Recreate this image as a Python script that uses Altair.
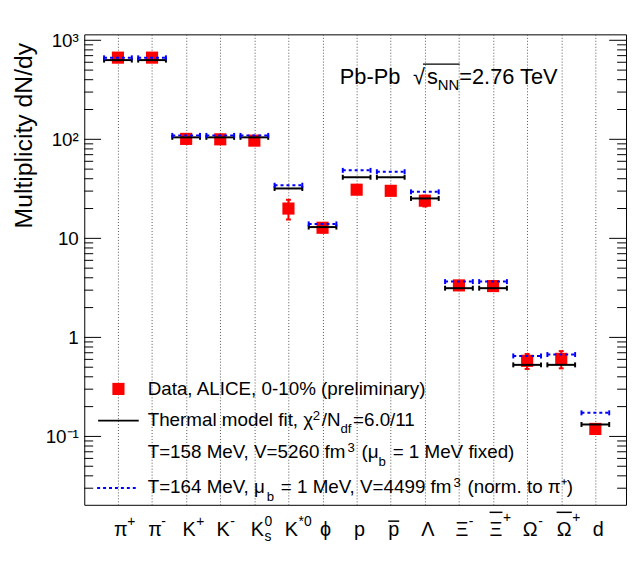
import altair as alt
import pandas as pd

# ---------------- data ----------------
particles = ["pi+", "pi-", "K+", "K-", "K0s", "K*0", "phi", "p", "pbar", "Lambda",
             "Xi-", "Xibar+", "Omega-", "Omegabar+", "d"]
label_base = ["π", "π", "K", "K", "K", "K", "ϕ", "p", "p", "Λ", "Ξ", "Ξ", "Ω", "Ω", "d"]
label_sup = ["+", "-", "+", "-", "0", "*0", "", "", "", "", "-", "+", "-", "+", ""]
label_sub = ["", "", "", "", "s", "", "", "", "", "", "", "", "", "", ""]
label_bar = [False, False, False, False, False, False, False, False, True, False,
             False, True, False, True, False]

data_val = [668, 668, 101, 100, 97, 20.0, 12.8, 31.0, 30.2, 24.0, 3.35, 3.30, 0.58, 0.607, 0.119]
data_err = [40, 40, 8, 8, 8, 4.5, 1.3, 2.5, 2.5, 3.0, 0.25, 0.25, 0.10, 0.12, 0.012]
fit_val = [631, 631, 104.7, 104.7, 104.7, 31.9, 13.0, 41.4, 41.4, 25.3, 3.14, 3.14, 0.528, 0.528, 0.132]
norm_val = [665, 665, 109.6, 109.6, 109.6, 34.4, 14.0, 48.6, 47.1, 29.5, 3.66, 3.66, 0.65, 0.671, 0.173]

y_tick_values = [0.1, 1, 10, 100, 1000]
y_tick_labels = ["10⁻¹", "1", "10", "10²", "10³"]
y_minor_ticks = [0.03, 0.04, 0.05, 0.06, 0.07, 0.08, 0.09,
                 0.2, 0.3, 0.4, 0.5, 0.6, 0.7, 0.8, 0.9,
                 2, 3, 4, 5, 6, 7, 8, 9,
                 20, 30, 40, 50, 60, 70, 80, 90,
                 200, 300, 400, 500, 600, 700, 800, 900]

legend_lines = [
    [("Data, ALICE, 0-10% (preliminary)", "n")],
    [("Thermal model fit, χ", "n"), ("2", "sup"), ("/N", "n"), ("df", "sub"), ("=6.0/11", "n")],
    [("T=158 MeV, V=5260 fm", "n"), ("3", "sup"), (" (μ", "n"), ("b", "sub"), (" = 1 MeV fixed)", "n")],
    [("T=164 MeV, μ", "n"), ("b", "sub"), (" = 1 MeV, V=4499 fm", "n"), ("3", "sup"),
     (" (norm. to π⁺)", "n")],
]

# ---------------- layout helpers ----------------
FONT = "Liberation Sans, Arial, Helvetica, sans-serif"
W, H = 547, 475

AW = {' ': 278, '!': 278, '%': 889, '(': 333, ')': 333, '*': 389, '+': 584, ',': 278,
      '-': 333, '.': 278, '/': 278, '=': 584,
      'A': 667, 'B': 667, 'C': 722, 'D': 722, 'E': 667, 'F': 611, 'G': 778, 'H': 722,
      'I': 278, 'J': 500, 'K': 667, 'L': 556, 'M': 833, 'N': 722, 'O': 778, 'P': 667,
      'Q': 778, 'R': 722, 'S': 667, 'T': 611, 'U': 722, 'V': 667, 'W': 944, 'X': 667,
      'Y': 667, 'Z': 611,
      'a': 556, 'b': 556, 'c': 500, 'd': 556, 'e': 556, 'f': 278, 'g': 556, 'h': 556,
      'i': 222, 'j': 222, 'k': 500, 'l': 222, 'm': 833, 'n': 556, 'o': 556, 'p': 556,
      'q': 556, 'r': 333, 's': 500, 't': 278, 'u': 556, 'v': 500, 'w': 722, 'x': 500,
      'y': 500, 'z': 500,
      'χ': 500, 'μ': 576, 'π': 580, 'φ': 700, 'ϕ': 700, 'Λ': 667, 'Ξ': 650, 'Ω': 768, '√': 549}
for _d in "0123456789":
    AW[_d] = 556


def tw(s, size):
    return sum(AW.get(c, 556) for c in s) * size / 1000.0


def annot(text, x, y, size, align="left", color="black"):
    return alt.Chart(alt.Data(values=[{"t": text}])).mark_text(
        align=align, baseline="alphabetic", font=FONT, fontSize=size, color=color
    ).encode(x=alt.value(x), y=alt.value(y), text="t:N")


def rich(pieces, x0, y, size, sub_dy=8, sup_dy=6):
    layers = []
    x = x0
    for text, kind in pieces:
        fs = size if kind == "n" else size * 0.7
        yy = y if kind == "n" else (y - sup_dy if kind == "sup" else y + sub_dy)
        lead = len(text) - len(text.lstrip())
        layers.append(annot(text.strip(), x + tw(text[:lead], fs), yy, fs))
        x += tw(text, fs) + (1.5 if kind != "n" else 0)
    return layers


df = pd.DataFrame({
    "idx": list(range(len(particles))),
    "particle": particles,
    "base": label_base,
    "sup": label_sup,
    "sub": label_sub,
    "bar": label_bar,
    "val": data_val,
    "err": data_err,
    "fit": fit_val,
    "norm": norm_val,
})
df["lo"] = df["val"] - df["err"]
df["hi"] = df["val"] + df["err"]

x_scale = alt.Scale(domain=[-0.988, 14.9], nice=False, zero=False)
y_scale = alt.Scale(type="log", domain=[0.0204, 1148], nice=False)

label_expr = " : ".join(
    [f"datum.value == {v} ? '{l}'" for v, l in zip(y_tick_values, y_tick_labels)]
) + " : ''"

x_main = alt.X("idx:Q", scale=x_scale, axis=alt.Axis(
    values=list(range(len(particles))), grid=True, labels=False, ticks=False, tickSize=0,
    domain=False, title=None, gridDash=[1, 2], gridColor="#555555", gridWidth=1))
x_plain = alt.X("idx:Q", scale=x_scale, axis=None)
x2_plain = alt.X2(field="idx")

y_axis = alt.Axis(
    values=y_tick_values, labelExpr=label_expr, grid=False, ticks=False, tickSize=0,
    domain=False, labelFontSize=19, labelFont=FONT, labelColor="black", labelPadding=6,
    title="Multiplicity dN/dy", titleFontSize=25, titleFont=FONT, titleFontWeight="normal",
    titleColor="black", titleAngle=270, titleAlign="right", titleBaseline="alphabetic",
    titleX=-53, titleY=8)

base = alt.Chart(df)
layers = []

# axis carrier layer (grid + y labels + title), drawn first
layers.append(base.mark_point(opacity=0, size=1).encode(
    x=x_main, y=alt.Y("val:Q", scale=y_scale, axis=y_axis)))

# axis ticks drawn inside the frame (ROOT style)
maj_df = pd.DataFrame({"v": y_tick_values})
min_df = pd.DataFrame({"v": y_minor_ticks})
for tdf, ln in [(maj_df, 17), (min_df, 9)]:
    yy = alt.Y("v:Q", scale=y_scale, axis=None)
    layers.append(alt.Chart(tdf).mark_rule(color="black", strokeWidth=1).encode(
        y=yy, x=alt.value(0), x2=alt.value(ln)))
    layers.append(alt.Chart(tdf).mark_rule(color="black", strokeWidth=1).encode(
        y=yy, x=alt.value(W - ln), x2=alt.value(W)))

# data error bars
layers.append(base.mark_rule(color="red", strokeWidth=2).encode(
    x=x_plain, y=alt.Y("lo:Q", scale=y_scale, axis=None), y2=alt.Y2(field="hi")))
for f in ["lo", "hi"]:
    layers.append(base.mark_rule(color="red", strokeWidth=2, xOffset=-2.5, x2Offset=2.5).encode(
        x=x_plain, x2=x2_plain, y=alt.Y(f"{f}:Q", scale=y_scale, axis=None)))

# data points
layers.append(base.mark_square(size=150, color="red", opacity=1, strokeWidth=0).encode(
    x=x_plain, y=alt.Y("val:Q", scale=y_scale, axis=None)))

# thermal fit (black) and normalised model (blue dotted)
for field, color, dash in [("fit", "black", None), ("norm", "#0000ff", [3, 3])]:
    kw = {} if dash is None else {"strokeDash": dash}
    yy = alt.Y(f"{field}:Q", scale=y_scale, axis=None)
    layers.append(base.mark_rule(color=color, strokeWidth=2, xOffset=-14, x2Offset=14, **kw).encode(
        x=x_plain, x2=x2_plain, y=yy))
    for off in [-14, 14]:
        layers.append(base.mark_rule(color=color, strokeWidth=2, xOffset=off, x2Offset=off,
                                     yOffset=-2.5, y2Offset=2.5).encode(
            x=x_plain, x2=x2_plain, y=yy, y2=alt.Y2(field=field)))

# x labels (particle names)
LBL = 20
LBL_Y = H + 31
DXL = 3
layers.append(base.mark_text(font=FONT, fontSize=LBL, align="center", baseline="alphabetic",
                             dx=DXL, color="black").encode(
    x=x_plain, y=alt.value(LBL_Y), text="base:N"))
combos = sorted({(b, bar) for b, s, bar in zip(label_base, label_sup, label_bar) if s})
for b, bar in combos:
    dx = DXL + tw(b, LBL) / 2 + 0.5
    raise_ = 14 if bar else 9.5
    layers.append(base.transform_filter(
        f"datum.base == '{b}' && datum.sup != '' && datum.bar == {str(bar).lower()}"
    ).mark_text(font=FONT, fontSize=14, align="left", baseline="alphabetic", dx=dx,
                color="black").encode(x=x_plain, y=alt.value(LBL_Y - raise_), text="sup:N"))
sub_bases = sorted({b for b, s in zip(label_base, label_sub) if s})
for b in sub_bases:
    dx = DXL + tw(b, LBL) / 2 + 0.5
    layers.append(base.transform_filter(f"datum.base == '{b}' && datum.sub != ''").mark_text(
        font=FONT, fontSize=14, align="left", baseline="alphabetic", dx=dx, color="black").encode(
        x=x_plain, y=alt.value(LBL_Y + 6), text="sub:N"))
bar_bases = sorted({b for b, bar in zip(label_base, label_bar) if bar})
for b in bar_bases:
    w = tw(b, LBL)
    rise = 14.5 if b.islower() else 23.4
    layers.append(base.transform_filter(f"datum.base == '{b}' && datum.bar").mark_rule(
        color="black", strokeWidth=1.5, xOffset=DXL - w / 2, x2Offset=DXL + w / 2).encode(
        x=x_plain, x2=x2_plain, y=alt.value(LBL_Y - rise)))

# legend
layers.append(alt.Chart(alt.Data(values=[{"k": 1}])).mark_square(
    size=150, color="red", opacity=1, strokeWidth=0).encode(x=alt.value(34.5), y=alt.value(358)))
layers.append(alt.Chart(alt.Data(values=[{"k": 1}])).mark_rule(color="black", strokeWidth=2).encode(
    x=alt.value(14), x2=alt.value(55), y=alt.value(390)))
layers.append(alt.Chart(alt.Data(values=[{"k": 1}])).mark_rule(
    color="#0000ff", strokeWidth=2, strokeDash=[3, 3]).encode(
    x=alt.value(13), x2=alt.value(55), y=alt.value(458)))
for pieces, yb in zip(legend_lines, [364, 395, 428, 463]):
    layers += rich(pieces, 64, yb, 19)

# header
HS = 22
HY = 49.7
layers.append(annot("Pb-Pb", 258, HY, HS))
layers.append(annot("√", 332, HY, HS))
layers.append(alt.Chart(alt.Data(values=[{"k": 1}])).mark_rule(color="black", strokeWidth=1.2).encode(
    x=alt.value(342), x2=alt.value(379), y=alt.value(30)))
xs = 346
layers.append(annot("s", xs, HY, HS))
xs += tw("s", HS)
layers.append(annot("NN", xs, HY + 6.5, 15))
xs += tw("NN", 15)
layers.append(annot("=2.76 TeV", xs, HY, HS))

chart = alt.layer(*layers).resolve_axis(x="independent", y="independent").properties(
    width=W, height=H,
    padding={"left": 77, "top": 24, "right": 3, "bottom": 40},
    autosize=alt.AutoSizeParams(type="none"),
).configure(background="white", font=FONT).configure_view(stroke="black", strokeWidth=1)

chart.save("out.html", embed_options={"renderer": "svg", "actions": False})
